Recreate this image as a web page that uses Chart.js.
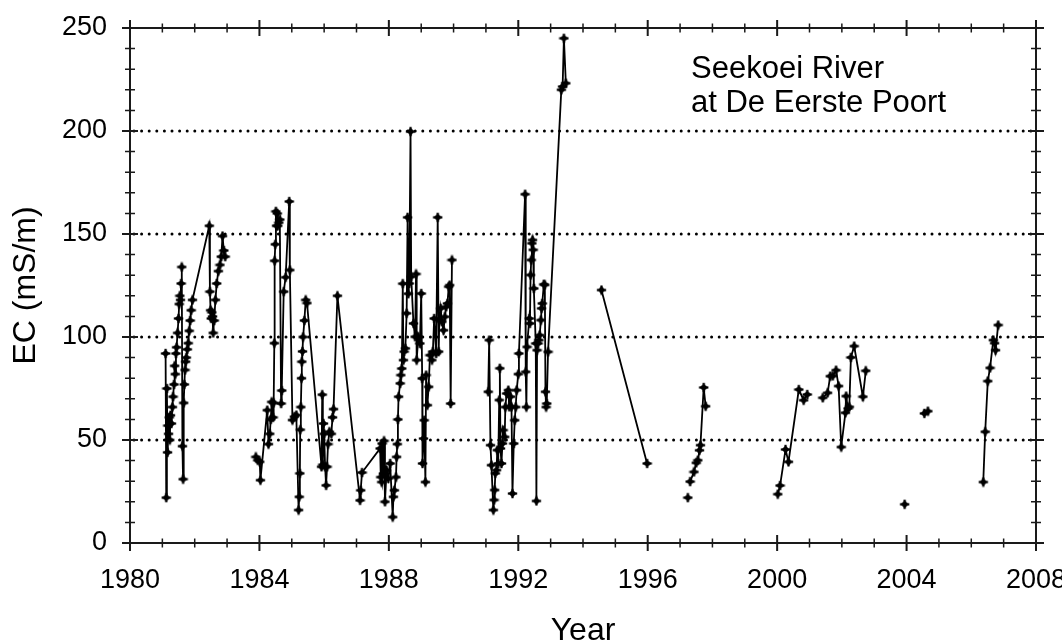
<!DOCTYPE html>
<html>
<head>
<meta charset="utf-8">
<title>Seekoei River at De Eerste Poort - EC</title>
<script src="https://cdn.jsdelivr.net/npm/chart.js@4.4.1/dist/chart.umd.min.js"></script>
<style>
  html, body { margin: 0; padding: 0; background: #fff; }
  canvas { display: block; }
</style>
</head>
<body>
<canvas id="ecChart" width="1062" height="644"></canvas>
<script>
// sampling dates (decimal years); a null EC value breaks the line
const years = [
  1981.10, 1981.12, 1981.14, 1981.16, 1981.17, 1981.19, 1981.21, 1981.23, 1981.25, 1981.28,
  1981.31, 1981.33, 1981.36, 1981.38, 1981.40, 1981.42, 1981.44, 1981.47, 1981.50, 1981.52,
  1981.54, 1981.56, 1981.58, 1981.60, 1981.62, 1981.64, 1981.66, 1981.68, 1981.70, 1981.72,
  1981.74, 1981.77, 1981.80, 1981.83, 1981.86, 1981.89, 1981.93, 1982.45, 1982.47, 1982.49,
  1982.51, 1982.53, 1982.55, 1982.57, 1982.60, 1982.64, 1982.68, 1982.73, 1982.78, 1982.82,
  1982.86, 1982.90, 1982.94, 1983.40,
  1983.89, 1983.95, 1984.01, 1984.03, 1984.24, 1984.28, 1984.32, 1984.35, 1984.38, 1984.42,
  1984.44, 1984.46, 1984.47, 1984.49, 1984.51, 1984.53, 1984.55, 1984.57, 1984.60, 1984.63,
  1984.67, 1984.69, 1984.75, 1984.81, 1984.92, 1984.94, 1985.02, 1985.08, 1985.14, 1985.21,
  1985.23, 1985.25, 1985.26, 1985.28, 1985.30, 1985.31, 1985.33, 1985.35, 1985.39, 1985.43,
  1985.47, 1985.92, 1985.94, 1985.96, 1985.98, 1986.00, 1986.03, 1986.06, 1986.09, 1986.12,
  1986.16, 1986.22, 1986.26, 1986.29, 1986.41, 1987.11, 1987.13, 1987.17, 1987.73, 1987.75,
  1987.78, 1987.79, 1987.83, 1987.85, 1987.88, 1987.93, 1987.98, 1988.04, 1988.12, 1988.14,
  1988.17, 1988.22, 1988.24, 1988.26, 1988.28, 1988.30, 1988.35, 1988.37, 1988.40, 1988.43,
  1988.45, 1988.47, 1988.51, 1988.55, 1988.58, 1988.60, 1988.63, 1988.67, 1988.69, 1988.76,
  1988.81, 1988.84, 1988.86, 1988.91, 1988.96, 1989.00, 1989.03, 1989.04, 1989.07, 1989.09,
  1989.13, 1989.15, 1989.19, 1989.23, 1989.27, 1989.33, 1989.36, 1989.40, 1989.46, 1989.51,
  1989.54, 1989.56, 1989.60, 1989.64, 1989.69, 1989.73, 1989.77, 1989.81, 1989.85, 1989.88,
  1989.91, 1989.95, 1990.50,
  1991.07, 1991.10, 1991.14, 1991.17, 1991.23, 1991.25, 1991.27, 1991.29, 1991.33, 1991.35,
  1991.38, 1991.41, 1991.43, 1991.45, 1991.48, 1991.51, 1991.53, 1991.58, 1991.60, 1991.64,
  1991.69, 1991.72, 1991.76, 1991.79, 1991.82, 1991.86, 1991.89, 1991.92, 1991.95, 1992.00,
  1992.02, 1992.21, 1992.23, 1992.25, 1992.27, 1992.34, 1992.36, 1992.38, 1992.40, 1992.42,
  1992.44, 1992.46, 1992.48, 1992.54, 1992.56, 1992.58, 1992.61, 1992.64, 1992.66, 1992.70,
  1992.72, 1992.74, 1992.79, 1992.82, 1992.84, 1992.86, 1992.88, 1992.92, 1993.33, 1993.37,
  1993.41, 1993.47, 1994.00,
  1994.57, 1995.98, 1996.60,
  1997.24, 1997.27,
  1997.31, 1997.43, 1997.50, 1997.55, 1997.60, 1997.63, 1997.73, 1997.79, 1999.00,
  2000.02, 2000.09, 2000.26, 2000.35, 2000.67, 2000.82, 2000.93, 2001.20,
  2001.41, 2001.56, 2001.64, 2001.72, 2001.82, 2001.90, 2001.98, 2002.11, 2002.13, 2002.19,
  2002.23, 2002.28, 2002.38, 2002.65, 2002.74, 2003.30,
  2003.94, 2004.20,
  2004.55, 2004.66, 2005.50,
  2006.37, 2006.43, 2006.51, 2006.58, 2006.68, 2006.72, 2006.75, 2006.83
];

// electrical conductivity, mS/m
const ecValues = [
  92, 22, 75, 44, 57, 53, 61, 50, 62, 58,
  66, 71, 77, 86, 82, 92, 95, 102, 109, 116,
  120, 118, 126, 134, 47, 31, 68, 77, 84, 88,
  90, 94, 97, 103, 108, 113, 118, 154, 122, 113,
  109, 112, 110, 102, 108, 118, 126, 132, 135, 139,
  149, 142, 139, null,
  41.8, 40.2, 39.4, 30.5, 64.5, 48, 53, 60, 68.5, 61,
  68, 97, 137, 145, 161, 154, 160, 154, 155.5, 157,
  67.7, 74, 122, 129, 165.8, 132.5, 59.7, 61.3, 62.1, 16,
  22.4, 33.8, 55, 66, 80, 88, 93, 100, 108, 118,
  116.5, 37, 72, 38, 58, 53, 37, 28, 37, 48,
  54, 53, 61, 65, 120, 20.7, 25.6, 34.2, 45.9, 32,
  29.6, 48.3, 33.7, 49.6, 20, 35.3, 31.3, 38.6, 12.6, 22.4,
  25.6, 32, 41.8, 48, 60, 71, 77.5, 81.5, 84.7, 125.9,
  88.8, 92.9, 94.5, 111.5, 158.1, 121, 126, 199.7, 129.3, 106.6,
  100.1, 130.6, 88.8, 100.1, 96.9, 121.1, 79.9, 38.6, 50.7, 59.6,
  29.6, 81.5, 66.9, 75.8, 91.2, 88.8, 92.9, 109, 92, 158.1,
  92.9, 108.2, 113.9, 107.4, 103.3, 109.8, 114.7, 116.3, 124.4, 125.2,
  67.7, 137.4, null,
  73.4, 98.5, 47.5, 37.8, 16, 20.9, 25.7, 33.8, 35.4, 45.1,
  38.6, 69.4, 84.8, 45.9, 38.6, 48.3, 54.8, 51.5, 66, 72.6,
  74.2, 66.1, 71, 66.1, 24, 48.3, 59.6, 66, 74.2, 82,
  92, 169.3, 83.1, 66, 95.2, 109, 106.6, 130.1, 137.4, 145.5,
  147.1, 142.3, 123.6, 96.9, 20.4, 93.6, 96.9, 98.5, 100.9, 108.2,
  113.9, 116.3, 125.6, 125.3, 73.4, 66, 67.7, 92.8, 220, 221.6,
  245, 223.2, null,
  122.8, 38.6, null,
  22, null,
  29.8, 34.5, 38.9, 40.2, 45, 47.5, 75.5, 66.4, null,
  23.7, 27.9, 45.4, 39.4, 74.5, 69.3, 72.1, null,
  70.5, 72.9, 81, 81.1, 83.9, 76.2, 46.6, 63.2, 71.3, 65.3,
  66.1, 90.1, 95.6, 71, 83.6, null,
  18.8, null,
  62.9, 64, null,
  29.6, 54, 78.6, 85, 98.5, 97, 93.6, 105.8
];

const xTicks = [1980, 1984, 1988, 1992, 1996, 2000, 2004, 2008];
const yTicks = [0, 50, 100, 150, 200, 250];
const gridLevels = [50, 100, 150, 200];
const noteLines = ['Seekoei River', 'at De Eerste Poort'];

const FONT = "'Liberation Sans', Arial, Helvetica, sans-serif";
Chart.defaults.font.family = FONT;
Chart.defaults.color = '#000';

// small bold plus/diamond marker like the original plot symbol
function makeMarker() {
    const c = document.createElement('canvas');
    c.width = 11; c.height = 11;
    const g = c.getContext('2d');
    g.fillStyle = '#000';
    g.beginPath();
    g.moveTo(5.5, 1.5); g.lineTo(9.5, 5.5); g.lineTo(5.5, 9.5); g.lineTo(1.5, 5.5);
    g.closePath();
    g.fill();
    g.fillRect(4.4, 0.8, 2.2, 9.4);
    g.fillRect(0.8, 4.4, 9.4, 2.2);
    return c;
}

// dotted grid, boxed frame with in/out ticks on all four sides, station label
const framePlugin = {
    id: 'frame',
    beforeDatasetsDraw(chart) {
        const { ctx, chartArea: a, scales: { y } } = chart;
        ctx.save();
        ctx.strokeStyle = '#000';
        ctx.lineWidth = 3;
        ctx.lineCap = 'round';
        ctx.setLineDash([0, 7.6]);
        gridLevels.forEach(v => {
            const py = Math.round(y.getPixelForValue(v));
            ctx.beginPath();
            ctx.moveTo(a.left + 4, py);
            ctx.lineTo(a.right, py);
            ctx.stroke();
        });
        ctx.restore();
    },
    afterDatasetsDraw(chart) {
        const { ctx, chartArea: a, scales: { x, y } } = chart;
        ctx.save();
        ctx.strokeStyle = '#1a1a1a';
        ctx.lineWidth = 2;
        ctx.strokeRect(a.left, a.top, a.right - a.left, a.bottom - a.top);

        for (let yr = 1980; yr <= 2008; yr++) {
            const px = x.getPixelForValue(yr);
            const len = (yr - 1980) % 4 === 0 ? 8 : 4.5;
            ctx.lineWidth = len === 8 ? 2 : 1.5;
            ctx.beginPath();
            ctx.moveTo(px, a.bottom - len); ctx.lineTo(px, a.bottom + len);
            ctx.moveTo(px, a.top - len); ctx.lineTo(px, a.top + len);
            ctx.stroke();
        }
        for (let v = 0; v <= 250; v += 10) {
            const py = y.getPixelForValue(v);
            const len = v % 50 === 0 ? 8 : 5;
            ctx.lineWidth = len === 8 ? 2 : 1.5;
            ctx.beginPath();
            ctx.moveTo(a.left - len, py); ctx.lineTo(a.left + len, py);
            ctx.moveTo(a.right - len, py); ctx.lineTo(a.right + len, py);
            ctx.stroke();
        }

        ctx.fillStyle = '#000';
        ctx.font = '31px ' + FONT;
        ctx.textAlign = 'left';
        ctx.textBaseline = 'alphabetic';
        noteLines.forEach((t, i) => ctx.fillText(t, 691, 78 + i * 34));
        ctx.restore();
    }
};

const ctx = document.getElementById('ecChart').getContext('2d');
new Chart(ctx, {
    type: 'line',
    data: {
        datasets: [{
            label: 'EC',
            data: years.map((yr, i) => ({ x: yr, y: ecValues[i] })),
            borderColor: '#000',
            backgroundColor: '#000',
            borderWidth: 1.8,
            pointStyle: makeMarker(),
            pointRadius: 5,
            spanGaps: false,
            tension: 0
        }]
    },
    options: {
        responsive: false,
        animation: false,
        events: [],
        layout: { padding: { top: 28, right: 26, left: 0, bottom: 0 } },
        plugins: {
            legend: { display: false },
            tooltip: { enabled: false }
        },
        scales: {
            x: {
                type: 'linear',
                min: 1980,
                max: 2008,
                afterBuildTicks: axis => { axis.ticks = xTicks.map(v => ({ value: v })); },
                afterFit: s => { s.height = 101; s.paddingLeft = 0; s.paddingRight = 0; },
                ticks: {
                    callback: v => String(v),
                    font: { size: 27 },
                    color: '#000',
                    padding: 21,
                    maxRotation: 0,
                    autoSkip: false
                },
                grid: { display: false, drawTicks: false },
                border: { display: false },
                title: {
                    display: true,
                    text: 'Year',
                    font: { size: 32, lineHeight: 1 },
                    color: '#000',
                    padding: { top: 0, bottom: -3 }
                }
            },
            y: {
                min: 0,
                max: 250,
                afterBuildTicks: axis => { axis.ticks = yTicks.map(v => ({ value: v })); },
                afterFit: s => { s.width = 130; s.paddingTop = 0; s.paddingBottom = 0; },
                ticks: {
                    font: { size: 27 },
                    color: '#000',
                    padding: 23
                },
                grid: { display: false, drawTicks: false },
                border: { display: false },
                title: {
                    display: true,
                    text: 'EC (mS/m)',
                    font: { size: 32, lineHeight: 1 },
                    color: '#000',
                    padding: { top: 10, bottom: 0 }
                }
            }
        }
    },
    plugins: [framePlugin]
});
</script>
</body>
</html>
